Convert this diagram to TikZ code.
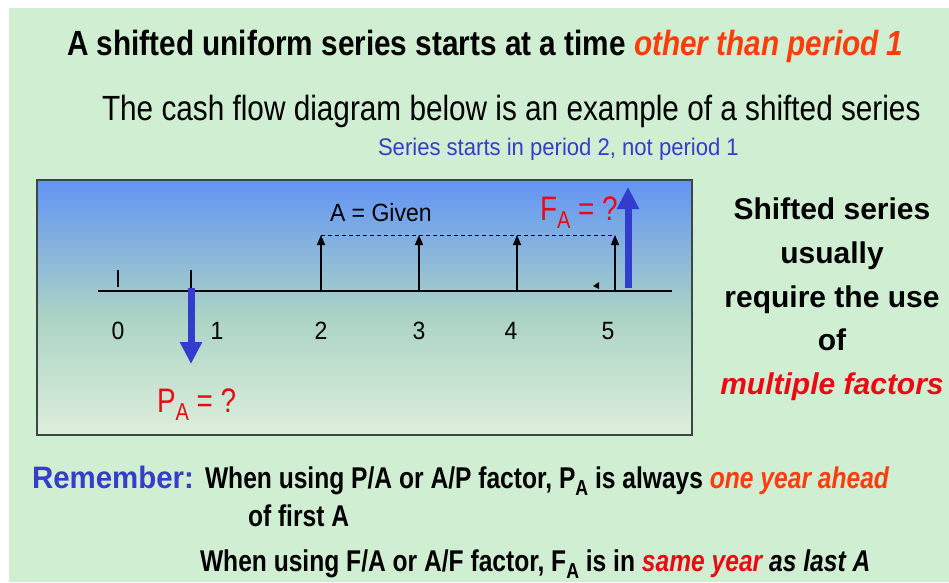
\documentclass[tikz,border=0pt]{standalone}
\usepackage{fontspec}
\setmainfont{Liberation Sans}
\newfontfamily\narrowfont{Liberation Sans}[FakeStretch=0.85]
\newfontfamily\slimfont{Liberation Sans}[FakeStretch=0.82]
\newfontfamily\notefont{Liberation Sans}[FakeStretch=0.92]
\newfontfamily\remfont{Liberation Sans}[FakeStretch=0.95]
\usetikzlibrary{arrows.meta}
\usetikzlibrary{positioning}

\definecolor{bgGreen}{RGB}{208,238,210}
\definecolor{hotOrange}{RGB}{255,60,10}
\definecolor{pureRed}{RGB}{235,10,20}
\definecolor{textBlue}{RGB}{52,62,200}
\definecolor{flowBlue}{RGB}{50,60,205}
\definecolor{frameGray}{RGB}{60,70,70}
\definecolor{skyTop}{RGB}{98,148,245}
\definecolor{skyMid}{RGB}{172,212,196}
\definecolor{skyLow}{RGB}{222,238,220}
\pgfdeclareverticalshading{boxfade}{100bp}{color(0bp)=(skyLow); color(25bp)=(skyLow); color(48bp)=(skyMid); color(75bp)=(skyTop); color(100bp)=(skyTop)}

\newcommand{\subA}{\raisebox{-0.25em}{\scalebox{0.72}{A}}}

\begin{document}
\begin{tikzpicture}[
  x=1pt, y=-1pt,
  every node/.style={inner sep=0pt,outer sep=0pt},
  num/.style={anchor=base,font=\notefont\fontsize{25}{30}\selectfont},
  rtxt/.style={anchor=base,font=\bfseries\fontsize{30}{36}\selectfont},
  btxt/.style={anchor=base west,font=\slimfont\bfseries\fontsize{30}{36}\selectfont},
  flow/.style={-{Triangle[width=8pt,length=10pt]},line width=1.3pt},
  cash/.style={-{Triangle[width=21pt,length=22pt]},line width=7pt,flowBlue}
]
  \useasboundingbox (0,0) rectangle (949,582);
  \fill[white] (0,0) rectangle (949,582);
  \fill[bgGreen] (9,8) rectangle (949,582);

  % headings
  \node[anchor=base west,font=\narrowfont\bfseries\fontsize{35}{40}\selectfont] (title) at (67,55)
    {A shifted uniform series starts at a time {\color{hotOrange}\itshape other than period 1}};
  \node[anchor=base west,font=\narrowfont\fontsize{35}{40}\selectfont] (sub) at (102,120)
    {The cash flow diagram below is an example of a shifted series};
  \node[anchor=base west,font=\notefont\fontsize{24}{28}\selectfont,textBlue] (note) at (378,155)
    {Series starts in period 2, not period 1};

  % cash flow diagram
  \shade[shading=boxfade,draw=frameGray,line width=1.5pt] (37,180) rectangle (692,435);

  \coordinate (ax0) at (98,291);
  \coordinate (ax1) at (672,291);
  \draw[line width=1.3pt] (ax0) -- (ax1);

  \coordinate (t0) at (118,287); \coordinate (h0) at (118,270);
  \coordinate (t1) at (191,291); \coordinate (h1) at (191,270);
  \draw[line width=1.2pt] (h0) -- (t0);
  \draw[line width=1.2pt] (h1) -- (t1);

  \coordinate (p2) at (321,291); \coordinate (a2) at (321,235);
  \coordinate (p3) at (419,291); \coordinate (a3) at (419,235);
  \coordinate (p4) at (517,291); \coordinate (a4) at (517,235);
  \coordinate (p5) at (615,291); \coordinate (a5) at (615,235);
  \draw[dashed,line width=0.8pt,dash pattern=on 4pt off 3pt] (a2) -- (a5);
  \draw[flow] (p2) -- (a2);
  \draw[flow] (p3) -- (a3);
  \draw[flow] (p4) -- (a4);
  \draw[flow] (p5) -- (a5);

  \fill (593,286) -- (599,282) -- (599,289) -- cycle;

  \node[num] (n0) at (118,339) {0};
  \node[num] (n1) at (217,339) {1};
  \node[num] (n2) at (321,339) {2};
  \node[num] (n3) at (419,339) {3};
  \node[num] (n4) at (511,339) {4};
  \node[num] (n5) at (608,339) {5};

  \coordinate (pstart) at (191,288); \coordinate (pend) at (191,364);
  \coordinate (fstart) at (628,288); \coordinate (fend) at (628,187);
  \draw[cash] (pstart) -- (pend);
  \draw[cash] (fstart) -- (fend);

  \node[anchor=base west,font=\notefont\fontsize{25}{30}\selectfont] (given) at (330,221) {A = Given};
  \node[anchor=base west,font=\slimfont\fontsize{34}{40}\selectfont,pureRed] (fa) at (540,220) {F\subA{} = ?};
  \node[anchor=base west,font=\slimfont\fontsize{34}{40}\selectfont,pureRed] (pa) at (157,412) {P\subA{} = ?};

  % side remark
  \node[rtxt] (r1) at (832,219) {Shifted series};
  \node[rtxt] (r2) at (832,263) {usually};
  \node[rtxt] (r3) at (832,307) {require the use};
  \node[rtxt] (r4) at (832,350) {of};
  \node[rtxt,pureRed] (r5) at (832,394) {\itshape multiple factors};

  % reminder
  \node[anchor=base west,font=\remfont\bfseries\fontsize{31}{36}\selectfont,textBlue] (rem) at (32,488) {Remember:};
  \node[btxt] (rem1) at (205,488)
    {When using P/A or A/P factor, P\subA{} is always {\color{hotOrange}\itshape one year ahead}};
  \node[btxt] (rem2) at (248,526) {of first A};
  \node[btxt] (rem3) at (200,571)
    {When using F/A or A/F factor, F\subA{} is in {\color{pureRed}\itshape same year} {\itshape as last A}};
\end{tikzpicture}
\end{document}
